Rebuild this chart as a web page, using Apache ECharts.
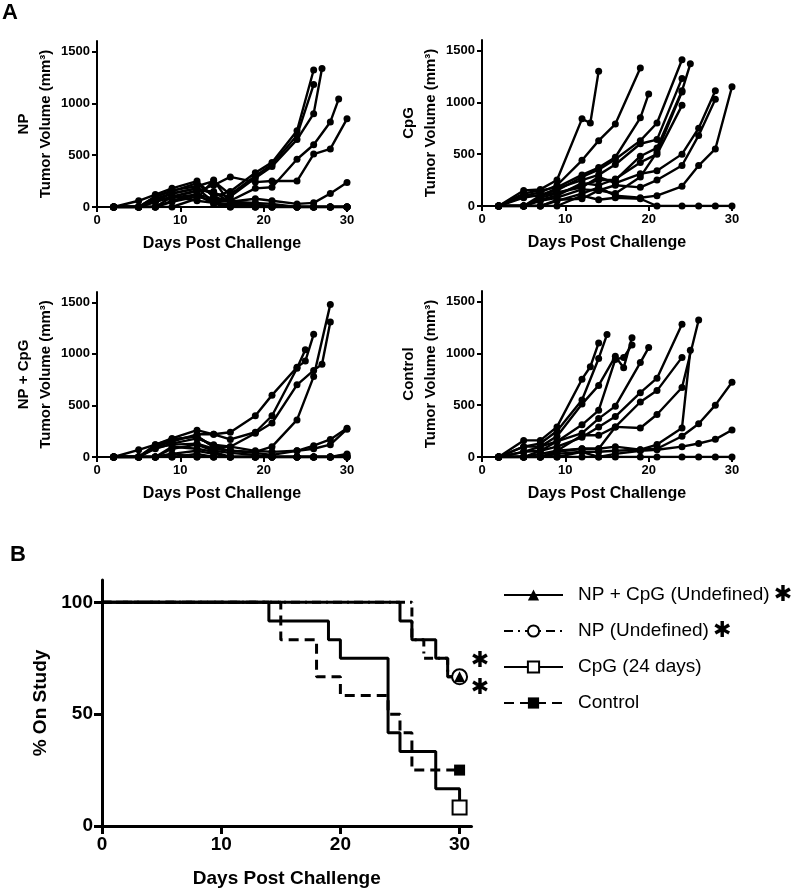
<!DOCTYPE html>
<html><head><meta charset="utf-8">
<script src="https://cdn.jsdelivr.net/npm/echarts@6/dist/echarts.min.js"></script>
<style>html,body{margin:0;padding:0;background:#fff}#c{width:800px;height:893px}</style>
</head><body><div id="c"></div>
<script>
// ---------- Panel A data (tumor volume, mm3) ----------
const panelNames = ['NP', 'CpG', 'NP + CpG', 'Control'];
const dayTicks = [0, 10, 20, 30];
const volTicks = [0, 500, 1000, 1500];

const npDays = [2,5,7,9,12,14,16,19,21,24,26,27,28,29,30];
const np1  = [0,60,120,180,250,100,150,330,430,735,1320,null,null,null,null];
const np2  = [0,0,100,160,200,250,120,300,410,690,1180,null,null,null,null];
const np3  = [0,0,80,130,180,130,100,280,390,650,900,1335,null,null,null];
const np4  = [0,0,50,100,150,210,290,240,250,250,510,null,560,null,850];
const np5  = [0,0,60,90,120,80,60,180,190,460,600,null,820,1040,null];
const np6  = [0,0,0,50,100,60,50,80,60,30,40,null,130,null,235];
const np7  = [0,0,100,150,230,100,50,40,30,0,0,null,0,null,0];
const np8  = [0,0,60,130,180,50,20,20,10,0,0,null,0,null,0];
const np9  = [0,0,50,100,160,150,40,30,0,0,0,null,0,null,0];
const np10 = [0,0,0,60,120,30,0,0,0,0,0,null,0,null,0];
const np11 = [0,0,0,100,60,40,0,0,0,0,0,null,0,null,0];
const np12 = [0,0,0,0,80,260,30,0,0,0,0,null,0,null,0];

const cpgDays = [2,5,7,9,12,13,14,16,19,20,21,24,25,26,28,30];
const cpg1  = [0,150,160,250,840,800,1300,null,null,null,null,null,null,null,null,null];
const cpg2  = [0,100,130,200,440,null,630,790,1330,null,null,null,null,null,null,null];
const cpg3  = [0,120,150,180,300,null,370,470,850,1080,null,null,null,null,null,null];
const cpg4  = [0,80,110,150,280,null,350,450,630,null,800,1410,null,null,null,null];
const cpg5  = [0,0,100,170,250,null,300,400,600,null,640,1230,null,null,null,null];
const cpg6  = [0,0,80,120,200,null,250,250,480,null,560,1110,1370,null,null,null];
const cpg7  = [0,0,60,100,220,null,200,260,420,null,500,970,null,null,null,null];
const cpg8  = [0,90,100,130,180,null,280,220,310,null,340,500,null,750,1110,null];
const cpg9  = [0,0,50,80,160,null,150,200,180,null,250,390,null,680,1030,null];
const cpg10 = [0,0,0,50,120,null,180,100,80,null,100,190,null,390,550,1150];
const cpg11 = [0,0,0,0,100,null,60,80,70,null,0,0,null,0,0,0];
const cpg12 = [0,0,0,60,70,null,150,120,280,null,520,1100,null,null,null,null];

const ncDays = [2,5,7,9,12,14,16,19,21,24,25,26,27,28,30];
const nc1  = [0,70,120,180,260,220,240,400,600,870,930,1190,null,null,null];
const nc2  = [0,0,100,150,220,220,170,240,400,860,1040,null,null,null,null];
const nc3  = [0,0,80,130,180,120,100,230,330,700,null,840,900,1310,null];
const nc4  = [0,0,110,170,200,100,60,50,100,360,null,780,null,1480,null];
const nc5  = [0,0,120,170,200,100,100,60,50,60,null,110,null,170,280];
const nc6  = [0,0,90,120,130,80,60,40,20,60,null,80,null,120,270];
const nc7  = [0,0,0,80,120,60,40,20,0,0,null,0,null,0,30];
const nc8  = [0,0,0,30,60,30,0,0,0,0,null,0,null,0,20];
const nc9  = [0,0,0,0,30,0,0,0,0,0,null,0,null,0,0];
const nc10 = [0,0,0,100,80,50,0,0,0,0,null,0,null,0,0];
const nc11 = [0,0,0,30,0,0,0,0,0,0,null,0,null,0,0];
const nc12 = [0,0,0,0,0,0,0,0,0,0,null,0,null,0,0];

const ctDays = [2,5,7,9,12,13,14,15,16,17,18,19,20,21,24,25,26,28,30];
const ct1  = [0,160,160,290,750,870,1100,null,null,null,null,null,null,null,null,null,null,null,null];
const ct2  = [0,100,130,250,550,null,950,1180,null,null,null,null,null,null,null,null,null,null,null];
const ct3  = [0,100,100,200,510,null,690,null,970,860,1150,null,null,null,null,null,null,null,null];
const ct4  = [0,50,100,150,310,null,450,null,940,960,1080,null,null,null,null,null,null,null,null];
const ct5  = [0,50,60,150,230,null,370,null,490,null,null,910,1055,null,null,null,null,null,null];
const ct6  = [0,0,60,100,190,null,290,null,390,null,null,620,null,760,1280,null,null,null,null];
const ct7  = [0,0,30,60,210,null,210,null,290,null,null,530,null,640,960,null,null,null,null];
const ct8  = [0,0,0,60,80,null,80,null,290,null,null,280,null,410,670,null,1320,null,null];
const ct9  = [0,0,0,50,80,null,80,null,100,null,null,70,null,120,280,1030,null,null,null];
const ct10 = [0,0,0,30,50,null,50,null,60,null,null,70,null,80,200,null,320,500,720];
const ct11 = [0,0,0,0,50,null,0,null,30,null,null,60,null,70,100,null,130,170,260];
const ct12 = [0,0,0,0,0,null,0,null,0,null,null,0,null,0,0,null,0,0,0];

// ---------- Panel B data (% on study) ----------
const pctTicks = [0, 50, 100];
const survNames = ['NP + CpG (Undefined)', 'NP (Undefined)', 'CpG (24 days)', 'Control'];
const sigNames = ['NP + CpG (Undefined)', 'NP (Undefined)'];
const survDaysNPCpG = [0,25,26,28,29,30];
const survNPCpG     = [100,91.7,83.3,75,66.7,66.7];
const survDaysNP    = [0,26,27,29,30];
const survNP        = [100,83.3,75,66.7,66.7];
const survDaysCpG   = [0,14,19,20,24,25,28,30];
const survCpG       = [100,91.7,83.3,75,41.7,33.3,16.7,8.3];
const survDaysCtrl  = [0,15,18,20,24,25,26,30];
const survCtrl      = [100,83.3,66.7,58.3,50,41.7,25,25];
const sigDays = [31.7, 31.7];
const sigPct  = [73.8, 61.7];

// ---------- build ----------
const F = 'Liberation Sans, Arial, Helvetica, sans-serif';
const zip = (xs, ys) => xs.map((x, i) => [x, ys[i]]).filter(p => p[1] !== null && p[1] !== undefined);
const plain = v => String(v);

const panels = [
  {days: npDays,  mice: [np1,np2,np3,np4,np5,np6,np7,np8,np9,np10,np11,np12]},
  {days: cpgDays, mice: [cpg1,cpg2,cpg3,cpg4,cpg5,cpg6,cpg7,cpg8,cpg9,cpg10,cpg11,cpg12]},
  {days: ncDays,  mice: [nc1,nc2,nc3,nc4,nc5,nc6,nc7,nc8,nc9,nc10,nc11,nc12]},
  {days: ctDays,  mice: [ct1,ct2,ct3,ct4,ct5,ct6,ct7,ct8,ct9,ct10,ct11,ct12]}
];

const grids = [
  {left: 97,  top: 41,  width: 250, height: 166},
  {left: 482, top: 40,  width: 250, height: 166},
  {left: 97,  top: 292, width: 250, height: 165},
  {left: 482, top: 291, width: 250, height: 166},
  {left: 102, top: 580, width: 369.5, height: 246}
];

const axLine = {show: true, onZero: false, lineStyle: {color: '#000', width: 2}};
const xAxes = [], yAxes = [], series = [];

panels.forEach((p, i) => {
  xAxes.push({
    gridIndex: i, type: 'value', min: 0, max: 30,
    axisLine: axLine,
    axisTick: {show: true, customValues: dayTicks, length: 5, lineStyle: {color: '#000', width: 2}},
    axisLabel: {customValues: dayTicks, formatter: plain, color: '#000', fontSize: 13, fontWeight: 'bold', fontFamily: F, margin: 7},
    splitLine: {show: false},
    name: 'Days Post Challenge', nameLocation: 'middle', nameGap: 29,
    nameTextStyle: {color: '#000', fontSize: 16, fontWeight: 'bold', fontFamily: F}
  });
  yAxes.push({
    gridIndex: i, type: 'value', min: 0, max: 1600,
    axisLine: axLine,
    axisTick: {show: true, customValues: volTicks, length: 5, lineStyle: {color: '#000', width: 2}},
    axisLabel: {customValues: volTicks, formatter: plain, color: '#000', fontSize: 13, fontWeight: 'bold', fontFamily: F, margin: 7},
    splitLine: {show: false},
    name: panelNames[i] + '\nTumor Volume (mm³)', nameLocation: 'middle', nameRotate: 90, nameGap: 34,
    nameTextStyle: {color: '#000', fontSize: 15, fontWeight: 'bold', fontFamily: F, lineHeight: 22}
  });
  p.mice.forEach((m) => {
    series.push({
      type: 'line', xAxisIndex: i, yAxisIndex: i, data: zip(p.days, m),
      symbol: 'circle', symbolSize: 7, showSymbol: true,
      lineStyle: {color: '#000', width: 2.4, opacity: 1}, itemStyle: {color: '#000', opacity: 1},
      silent: true, animation: false, z: 3
    });
  });
});

// survival axes
xAxes.push({
  gridIndex: 4, type: 'value', min: 0, max: 31,
  axisLine: {show: true, onZero: false, lineStyle: {color: '#000', width: 3}},
  axisTick: {show: true, customValues: dayTicks, length: 8, lineStyle: {color: '#000', width: 3}},
  axisLabel: {customValues: dayTicks, formatter: plain, color: '#000', fontSize: 19, fontWeight: 'bold', fontFamily: F, margin: 9},
  splitLine: {show: false},
  name: 'Days Post Challenge', nameLocation: 'middle', nameGap: 43,
  nameTextStyle: {color: '#000', fontSize: 19, fontWeight: 'bold', fontFamily: F}
});
yAxes.push({
  gridIndex: 4, type: 'value', min: 0, max: 110,
  axisLine: {show: true, onZero: false, lineStyle: {color: '#000', width: 3}},
  axisTick: {show: true, customValues: pctTicks, length: 8, lineStyle: {color: '#000', width: 3}},
  axisLabel: {customValues: pctTicks, formatter: plain, color: '#000', fontSize: 19, fontWeight: 'bold', fontFamily: F, margin: 9},
  splitLine: {show: false},
  name: '% On Study', nameLocation: 'middle', nameRotate: 90, nameGap: 52,
  nameTextStyle: {color: '#000', fontSize: 19, fontWeight: 'bold', fontFamily: F}
});

const surv = [
  {name: survNames[3], d: survDaysCtrl, v: survCtrl, sym: 'rect', type: [10, 6]},
  {name: survNames[1], d: survDaysNP, v: survNP, sym: 'emptyCircle', type: [9, 5, 2, 5]},
  {name: survNames[2], d: survDaysCpG, v: survCpG, sym: 'emptyRect', type: 'solid'},
  {name: survNames[0], d: survDaysNPCpG, v: survNPCpG, sym: 'triangle', type: 'solid'}
];
surv.forEach(s => {
  series.push({
    type: 'line', name: s.name, xAxisIndex: 4, yAxisIndex: 4, step: 'end',
    data: zip(s.d, s.v), symbol: s.sym, showSymbol: false,
    lineStyle: {color: '#000', width: 3, type: s.type}, itemStyle: {color: '#000'},
    silent: true, animation: false
  });
});
// end markers
const endSizes = {rect: 11, emptyCircle: 15, emptyRect: 14, triangle: 11};
surv.forEach(s => {
  const last = s.d.length - 1;
  series.push({
    type: 'scatter', name: 'end-' + s.name, xAxisIndex: 4, yAxisIndex: 4,
    data: [[s.d[last], s.v[last]]], symbol: s.sym, symbolSize: endSizes[s.sym],
    itemStyle: {color: '#000', borderColor: '#000', opacity: 1, borderWidth: s.sym.indexOf('empty') === 0 ? 3 : 0},
    silent: true, animation: false, clip: false, z: 5
  });
});
// significance asterisks
series.push({
  type: 'scatter', name: 'sig', xAxisIndex: 4, yAxisIndex: 4,
  data: zip(sigDays, sigPct), symbolSize: 1, clip: false,
  itemStyle: {color: 'rgba(0,0,0,0)'},
  label: {show: true, position: 'inside', formatter: '✱', color: '#000', opacity: 1, fontSize: 22, fontWeight: 'bold', fontFamily: 'DejaVu Sans'},
  silent: true, animation: false
});

const option = {
  backgroundColor: '#fff',
  animation: false,
  grid: grids,
  xAxis: xAxes,
  yAxis: yAxes,
  legend: {
    orient: 'vertical', left: 503, top: 584, padding: 0,
    itemWidth: 59, itemHeight: 14, itemGap: 14, selectedMode: false,
    data: survNames,
    formatter: n => '{t|' + n + '}' + (sigNames.indexOf(n) >= 0 ? '{s|✱}' : ''),
    textStyle: {
      color: '#000', fontFamily: F, fontSize: 19, lineHeight: 22, padding: [0, 0, 0, 10],
      rich: {
        t: {color: '#000', fontFamily: F, fontSize: 19, lineHeight: 22},
        s: {color: '#000', fontFamily: 'DejaVu Sans', fontWeight: 'bold', fontSize: 22, lineHeight: 22, padding: [0, 0, 0, 4]}
      }
    }
  },
  graphic: [
    {type: 'text', left: 2, top: 2, style: {text: 'A', font: 'bold 22px ' + F, fill: '#000'}},
    {type: 'text', left: 10, top: 544, style: {text: 'B', font: 'bold 22px ' + F, fill: '#000'}}
  ],
  series: series
};

const chart = echarts.init(document.getElementById('c'), null, {renderer: 'canvas'});
chart.setOption(option);
</script>
</body></html>
